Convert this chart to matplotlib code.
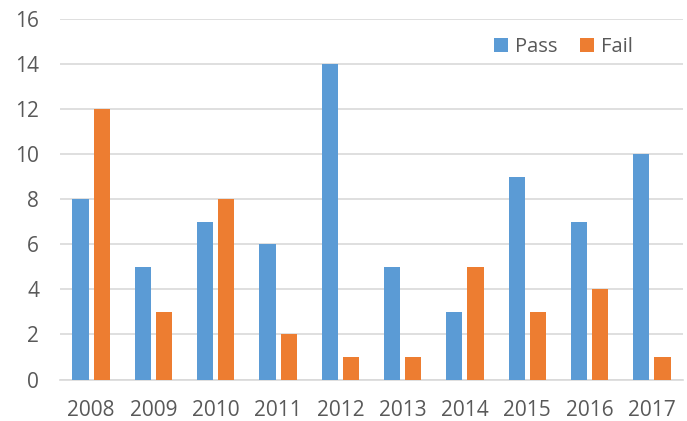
import numpy as np
import matplotlib.pyplot as plt

# dados
anos = ['2008', '2009', '2010', '2011', '2012', '2013', '2014', '2015', '2016', '2017']
passou = [8, 5, 7, 6, 14, 5, 3, 9, 7, 10]
falhou = [12, 3, 8, 2, 1, 1, 5, 3, 4, 1]

azul = '#5B9BD5'
laranja = '#ED7D31'
cinza_texto = '#595959'

plt.rcParams['font.family'] = ['Open Sans', 'DejaVu Sans']

fig = plt.figure(figsize=(6.87, 4.21), dpi=100)
ax = fig.add_axes([60 / 687, 1 - 379.5 / 421, 623 / 687, (379.5 - 19) / 421])

x = np.arange(len(anos))
largura = 0.26
desloc = 0.17
ax.bar(x - desloc, passou, largura, color=azul, label='Pass', zorder=3)
ax.bar(x + desloc, falhou, largura, color=laranja, label='Fail', zorder=3)

ax.set_xlim(-0.5, len(anos) - 0.5)
ax.set_ylim(0, 16)
ax.set_yticks(range(0, 17, 2))
ax.set_xticks(x)
ax.set_xticklabels(anos)

ax.grid(axis='y', color='#D9D9D9', linewidth=1.2, zorder=0)
for lado in ['top', 'right', 'left']:
    ax.spines[lado].set_visible(False)
ax.spines['bottom'].set_color('#D9D9D9')
ax.spines['bottom'].set_linewidth(1.2)
ax.tick_params(axis='both', length=0, labelsize=15, colors=cinza_texto)
ax.tick_params(axis='x', pad=15)
ax.tick_params(axis='y', pad=15)

leg = ax.legend(loc='upper right', bbox_to_anchor=(0.949, 1.0), ncol=2, frameon=False,
                fontsize=14.5, handlelength=0.7, handleheight=0.7, columnspacing=1.1,
                handletextpad=0.35)
for t in leg.get_texts():
    t.set_color(cinza_texto)

fig.savefig('out.png', dpi=100)
